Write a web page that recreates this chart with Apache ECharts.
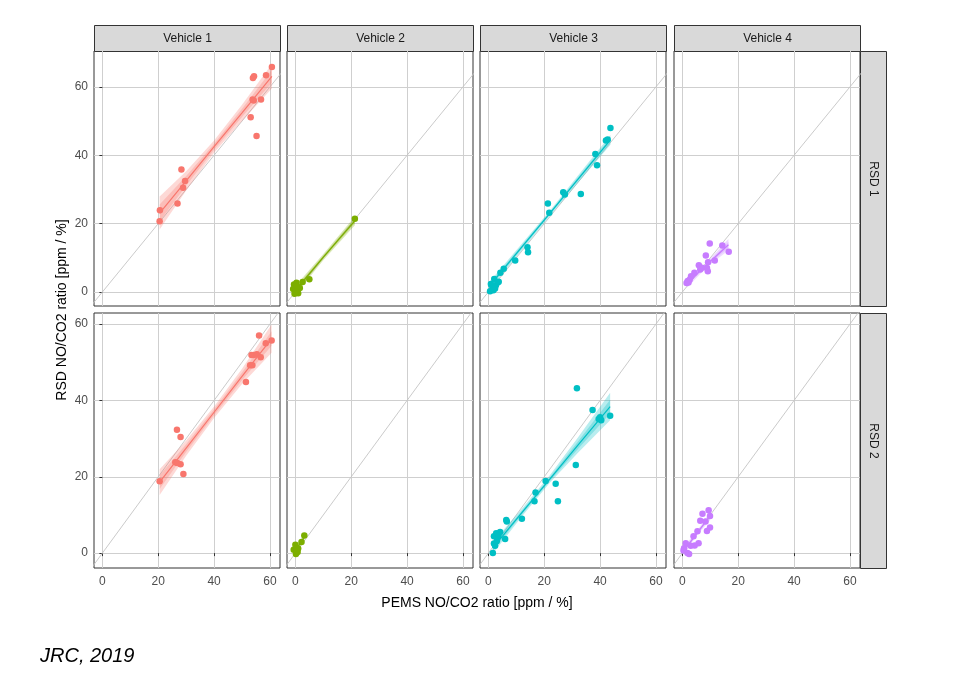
<!DOCTYPE html>
<html>
<head>
<meta charset="utf-8">
<script src="https://cdn.jsdelivr.net/npm/echarts@6/dist/echarts.min.js"></script>
<style>
  html, body { margin: 0; padding: 0; background: #fff; }
  #content { width: 966px; height: 678px; }
</style>
</head>
<body>
<div id="content"></div>
<script>
// facet labels and tick values
var vehicles = ['Vehicle 1', 'Vehicle 2', 'Vehicle 3', 'Vehicle 4'];
var devices = ['RSD 1', 'RSD 2'];
var tickValues = [0, 20, 40, 60];
var colors = ['#F8766D', '#7CAE00', '#00BFC4', '#C77CFF'];

// points [PEMS, RSD]
var v1r1 = [[20.6,23.9],[20.5,20.7],[28.3,35.8],[29.6,32.5],[28.9,30.5],[26.9,25.9],[53.9,62.6],[54.3,63.1],
            [58.6,63.4],[60.7,65.8],[53.8,56.3],[54.2,56.0],[56.8,56.3],[53.1,51.1],[55.2,45.6]];
var v2r1 = [[21.3,21.4],[5.0,3.7],[-0.5,2.2],[0.4,2.7],[-0.8,0.9],[1.0,-0.4],[0.0,0.0],[1.6,1.2],[2.6,2.9],[0.6,1.6],[-0.3,-0.5]];
var v3r1 = [[43.7,48.0],[42.1,44.3],[42.7,44.6],[38.3,40.4],[38.9,37.1],[26.8,29.2],[27.4,28.5],[33.1,28.7],
            [21.3,25.9],[21.8,23.2],[14.0,13.1],[14.2,11.6],[9.6,9.2],[5.5,6.8],[4.3,5.6],[0.9,2.3],[2.1,3.8],
            [3.3,2.8],[1.6,1.3],[1.4,0.8],[2.7,2.0],[3.7,3.0],[1.8,0.5],[0.6,0.2],[2.4,1.0]];
var v4r1 = [[9.8,14.2],[14.3,13.6],[16.6,11.8],[8.4,10.7],[11.6,9.2],[9.2,8.7],[5.9,7.8],[7.0,7.1],[9.1,6.1],
            [4.3,5.6],[3.1,4.6],[1.9,3.2],[2.6,3.6],[8.8,7.0],[6.4,6.6],[1.5,2.6],[2.2,2.8]];
var v1r2 = [[20.5,18.8],[26.7,32.3],[28.0,30.4],[26.1,23.8],[28.0,23.3],[29.0,20.7],[51.4,44.8],[56.1,57.0],
            [58.5,55.0],[60.6,55.7],[53.4,51.9],[54.2,51.9],[55.3,52.1],[52.9,49.2],[53.7,49.2],[56.7,51.3],[26.8,23.6]];
var v2r2 = [[3.2,4.6],[2.2,2.9],[0.0,2.2],[-0.6,0.9],[0.3,1.2],[0.2,-0.2],[0.8,0.3],[1.0,1.2],[0.5,0.6]];
var v3r2 = [[31.7,43.2],[37.3,37.5],[39.5,35.1],[40.4,34.8],[43.6,36.0],[31.3,23.1],[24.1,18.2],[24.9,13.6],
            [20.5,18.9],[16.9,15.9],[16.5,13.6],[12.0,9.0],[6.4,8.7],[6.6,8.3],[6.0,3.7],[2.8,5.2],[4.2,5.5],
            [2.0,4.4],[3.6,4.5],[3.0,3.1],[2.0,2.5],[2.4,1.9],[1.6,0.0],[40.0,35.6]];
var v4r2 = [[9.4,11.2],[7.2,10.3],[9.9,9.7],[6.4,8.5],[8.3,8.3],[9.9,6.7],[8.8,5.8],[5.4,5.7],[4.0,4.4],
            [5.8,2.6],[4.4,2.0],[3.0,1.9],[1.2,2.6],[0.6,1.3],[1.8,0.0],[2.4,-0.2],[0.4,0.7]];

// fitted line and band half-widths
var fitX = [[20.5,30,40,50,60.7],[-0.8,10,21.3],[0.1,22,43.7],[1.8,9,16.5],
            [20.5,30,40,50,60.6],[-0.6,3.2],[1.6,12,22,32,43.6],[0.4,5,9.9]];
var fitY = [[23.1,32.5,42.5,52.4,63.1],[-0.3,10.2,20.8],[1.5,23.0,44.5],[2.6,8.2,13.8],
            [18.6,27.5,36.9,46.3,56.2],[0.0,4.2],[1.4,10.6,19.4,28.2,38.4],[0.6,5.0,9.7]];
var bandOuter = [[4.8,2.8,1.8,2.4,3.6],[1.3,0.9,1.3],[1.2,0.8,1.4],[1.3,0.7,1.7],
                 [3.4,2.0,1.5,2.0,3.7],[0.8,0.8],[1.5,1.0,1.0,2.0,3.6],[1.0,0.6,1.1]];
var bandInner = [[2.5,1.4,0.9,1.2,1.9],[0.7,0.45,0.7],[0.6,0.4,0.7],[0.65,0.35,0.85],
                 [1.8,1.0,0.8,1.0,1.9],[0.4,0.4],[0.8,0.5,0.5,1.0,1.8],[0.5,0.3,0.55]];

var points = [v1r1, v2r1, v3r1, v4r1, v1r2, v2r2, v3r2, v4r2];
var yRanges = [[-4.1, 70.5], [-3.9, 62.9]];
var diag = [[-10, -10], [80, 80]];

var colLeft = [94, 287, 480, 674];
var rowTop = [51, 313];
var panelW = 186, panelH = 255;

var grids = [], xAxes = [], yAxes = [], series = [], graphics = [];

function bandSeries(i, hw, color) {
    var xs = fitX[i], ys = fitY[i];
    return {
        type: 'custom', xAxisIndex: i, yAxisIndex: i, silent: true, z: 3,
        data: xs.map(function (x, k) { return [x, ys[k] - hw[k], ys[k] + hw[k]]; }),
        encode: { x: 0, y: [1, 2] },
        renderItem: function (params, api) {
            if (params.dataIndex !== 0) return;
            var up = [], lo = [];
            for (var k = 0; k < xs.length; k++) {
                up.push(api.coord([xs[k], ys[k] + hw[k]]));
                lo.push(api.coord([xs[k], ys[k] - hw[k]]));
            }
            return {
                type: 'polygon',
                shape: { points: up.concat(lo.reverse()) },
                style: { fill: color, opacity: 0.28 }
            };
        }
    };
}

for (var r = 0; r < 2; r++) {
    for (var c = 0; c < 4; c++) {
        var i = r * 4 + c;
        grids.push({
            left: colLeft[c], top: rowTop[r], width: panelW, height: panelH,
            show: true, borderColor: '#333333', borderWidth: 1, backgroundColor: '#fff'
        });
        xAxes.push({
            type: 'value', gridIndex: i, min: -3, max: 63.6,
            axisLine: { show: false },
            axisTick: { show: r === 1, length: 3, inside: false, customValues: tickValues,
                        lineStyle: { color: '#333' } },
            axisLabel: { show: r === 1, customValues: tickValues, color: '#4d4d4d', fontSize: 12,
                         fontFamily: 'Liberation Sans', margin: 8 },
            splitLine: { show: true, lineStyle: { color: '#cfcfcf', width: 1 } }
        });
        yAxes.push({
            type: 'value', gridIndex: i, min: yRanges[r][0], max: yRanges[r][1],
            axisLine: { show: false },
            axisTick: { show: c === 0, length: 3, customValues: tickValues,
                        lineStyle: { color: '#333' } },
            axisLabel: { show: c === 0, customValues: tickValues, color: '#4d4d4d', fontSize: 12,
                         fontFamily: 'Liberation Sans', margin: 6 },
            splitLine: { show: true, lineStyle: { color: '#cfcfcf', width: 1 } }
        });
        series.push({
            type: 'line', xAxisIndex: i, yAxisIndex: i, data: diag, symbol: 'none', silent: true,
            lineStyle: { color: '#c4c4c4', width: 0.9 }, z: 2, clip: true
        });
        series.push(bandSeries(i, bandOuter[i], colors[c]));
        series.push(bandSeries(i, bandInner[i], colors[c]));
        series.push({
            type: 'line', xAxisIndex: i, yAxisIndex: i, symbol: 'none', silent: true,
            data: fitX[i].map(function (x, k) { return [x, fitY[i][k]]; }),
            lineStyle: { color: colors[c], width: 1.2 }, z: 4
        });
        series.push({
            type: 'scatter', xAxisIndex: i, yAxisIndex: i, data: points[i], symbolSize: 6.5,
            itemStyle: { color: colors[c], opacity: 1 }, z: 5
        });
    }
}

// facet strips
for (var c2 = 0; c2 < 4; c2++) {
    graphics.push({
        type: 'group', left: colLeft[c2], top: 25,
        children: [
            { type: 'rect', shape: { x: 0, y: 0, width: panelW, height: 26 },
              style: { fill: '#d9d9d9', stroke: '#333333', lineWidth: 1 } },
            { type: 'text', x: panelW / 2, y: 13,
              style: { text: vehicles[c2], fill: '#1a1a1a', font: '12px "Liberation Sans"',
                       textAlign: 'center', textVerticalAlign: 'middle' } }
        ]
    });
}
for (var r2 = 0; r2 < 2; r2++) {
    graphics.push({
        type: 'group', left: 860, top: rowTop[r2],
        children: [
            { type: 'rect', shape: { x: 0, y: 0, width: 26, height: panelH },
              style: { fill: '#d9d9d9', stroke: '#333333', lineWidth: 1 } },
            { type: 'text', x: 13, y: panelH / 2, rotation: -Math.PI / 2,
              style: { text: devices[r2], fill: '#1a1a1a', font: '12px "Liberation Sans"',
                       textAlign: 'center', textVerticalAlign: 'middle' } }
        ]
    });
}
graphics.push({
    type: 'text', x: 62, y: 310, rotation: Math.PI / 2,
    style: { text: 'RSD NO/CO2 ratio [ppm / %]', fill: '#000', font: '14px "Liberation Sans"',
             textAlign: 'center', textVerticalAlign: 'middle' }
});
graphics.push({
    type: 'text', x: 477, y: 603,
    style: { text: 'PEMS NO/CO2 ratio [ppm / %]', fill: '#000', font: '14px "Liberation Sans"',
             textAlign: 'center', textVerticalAlign: 'middle' }
});
graphics.push({
    type: 'text', x: 40, y: 656,
    style: { text: 'JRC, 2019', fill: '#000', font: 'italic 20px "Liberation Sans"',
             textAlign: 'left', textVerticalAlign: 'middle' }
});

var myChart = echarts.init(document.getElementById('content'));
myChart.setOption({
    animation: false,
    backgroundColor: '#fff',
    grid: grids,
    xAxis: xAxes,
    yAxis: yAxes,
    series: series,
    graphic: graphics
});
</script>
</body>
</html>
